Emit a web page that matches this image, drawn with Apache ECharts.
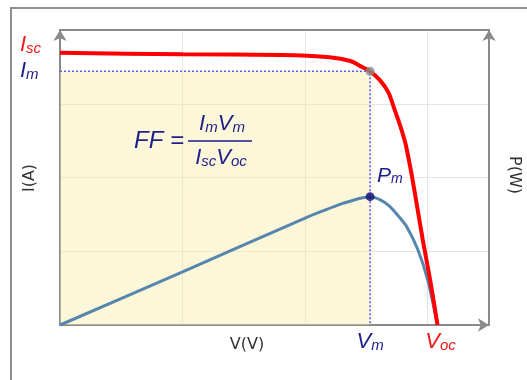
<!DOCTYPE html>
<html>
<head>
<meta charset="utf-8">
<script src="https://cdn.jsdelivr.net/npm/echarts@6/dist/echarts.min.js"></script>
<style>
  html, body { margin: 0; padding: 0; background: #fff; }
  #chart { width: 527px; height: 380px; }
</style>
</head>
<body>
<div id="chart"></div>
<script>
// I-V curve (voltage, current)
const ivVolt = [0, 1.0, 1.8, 2.2, 2.37, 2.45, 2.53, 2.61, 2.68, 2.73, 2.78, 2.82, 2.87, 2.90, 2.96, 3.02, 3.08];
const ivAmp  = [3.69, 3.67, 3.66, 3.63, 3.58, 3.51, 3.44, 3.32, 3.15, 2.92, 2.68, 2.45, 2.03, 1.74, 1.15, 0.61, 0];

// P-V curve (voltage, power)
const pvVolt = [0, 1.0, 2.0, 2.15, 2.30, 2.40, 2.47, 2.53, 2.61, 2.69, 2.77, 2.83, 2.92, 3.00, 3.08];
const pvWatt = [0, 0.72, 1.45, 1.55, 1.645, 1.695, 1.725, 1.74, 1.70, 1.61, 1.46, 1.33, 1.02, 0.61, 0];

// characteristic points
const Vm = 2.53, Im = 3.44, Pm = 1.74, Voc = 3.08, Isc = 3.69;

const RED = '#f01818';
const NAVY = '#1d1d8c';
const AXIS = '#8a8a8a';
const FONT = '"Liberation Sans", Arial, sans-serif';
const LABEL_FONT = '"DejaVu Sans", sans-serif';

const zip = (xs, ys) => xs.map((x, i) => [x, ys[i]]);

// rich text with italic letters and subscripts, e.g. [['I','m'],['V','m']]
function mathText(parts, color, size) {
	let text = parts.map(p => '{a|' + p[0] + '}' + (p[1] ? '{b|' + p[1] + '}' : '')).join('');
	return {
		text: text,
		rich: {
			a: { fontSize: size, fontStyle: 'italic', fontFamily: FONT, fill: color },
			b: { fontSize: Math.round(size * 0.68), fontStyle: 'italic', fontFamily: FONT, fill: color,
				verticalAlign: 'bottom', lineHeight: Math.round(size * 0.3) }
		}
	};
}

function label(x, y, parts, color, size, align) {
	return {
		type: 'text', z: 100,
		style: Object.assign({ x: x, y: y, align: align || 'left', verticalAlign: 'middle' },
			mathText(parts, color, size))
	};
}

const chart = echarts.init(document.getElementById('chart'), null, { renderer: 'canvas' });

const axisLine = (arrow) => ({
	show: true, onZero: false,
	lineStyle: { color: AXIS, width: 2 },
	symbol: arrow ? ['none', 'arrow'] : 'none',
	symbolSize: [10, 11]
});

chart.setOption({
	animation: false,
	grid: { left: 60, top: 30, right: 38, bottom: 55 },
	xAxis: [
		{ type: 'value', min: 0, max: 3.5, interval: 1, position: 'bottom',
			axisLine: axisLine(true), axisTick: { show: false }, axisLabel: { show: false },
			splitLine: { show: true, lineStyle: { color: '#e6e6e6', width: 1 } } },
		{ type: 'value', min: 0, max: 3.5, interval: 1, position: 'top',
			axisLine: axisLine(false), axisTick: { show: false }, axisLabel: { show: false },
			splitLine: { show: false } }
	],
	yAxis: [
		{ type: 'value', min: 0, max: 4, interval: 1, position: 'left',
			axisLine: axisLine(true), axisTick: { show: false }, axisLabel: { show: false },
			splitLine: { show: true, lineStyle: { color: '#e6e6e6', width: 1 } } },
		{ type: 'value', min: 0, max: 4, interval: 1, position: 'right',
			axisLine: axisLine(true), axisTick: { show: false }, axisLabel: { show: false },
			splitLine: { show: false } }
	],
	series: [
		{
			// max power rectangle: dotted edges + yellow fill
			type: 'line', symbol: 'none', z: 2,
			data: [[0, Im], [Vm, Im], [Vm, 0]],
			lineStyle: { color: '#5c5ce6', width: 1.6, type: [2, 2] },
			markArea: {
				silent: true,
				itemStyle: { color: 'rgba(248,236,160,0.4)' },
				data: [[{ coord: [0, 0] }, { coord: [Vm, Im] }]]
			}
		},
		{
			type: 'line', symbol: 'none', smooth: 0.25, z: 4,
			data: zip(pvVolt, pvWatt),
			lineStyle: { color: '#5686ad', width: 3 }
		},
		{
			type: 'line', symbol: 'none', smooth: 0.25, z: 5,
			data: zip(ivVolt, ivAmp),
			lineStyle: { color: '#ff0000', width: 4 }
		},
		{
			type: 'scatter', z: 6, symbolSize: 9,
			data: [
				{ value: [Vm, Im], itemStyle: { color: '#8a8a8a' } },
				{ value: [Vm, Pm], itemStyle: { color: '#101070' } }
			]
		}
	]
});

const px = (v) => chart.convertToPixel({ gridIndex: 0 }, v);
const pIsc = px([0, Isc]), pIm = px([0, Im]), pVm = px([Vm, 0]), pVoc = px([Voc, 0]), pPm = px([Vm, Pm]);

chart.setOption({
	graphic: [
		// outer frame
		{ type: 'rect', z: 0, shape: { x: 11, y: 8, width: 600, height: 500 },
			style: { fill: 'none', stroke: '#8e8e8e', lineWidth: 2 } },
		label(20, pIsc[1] - 8, [['I', 'sc']], RED, 22),
		label(20, pIm[1], [['I', 'm']], NAVY, 22),
		label(pVm[0], 342, [['V', 'm']], NAVY, 22, 'center'),
		label(pVoc[0] + 3, 342, [['V', 'oc']], RED, 22, 'center'),
		label(pPm[0] + 7, pPm[1] - 21, [['P', 'm']], NAVY, 21),
		// fill factor formula
		{ type: 'text', z: 100, style: { x: 134, y: 141, text: 'FF =', align: 'left', verticalAlign: 'middle',
			font: 'italic 24px ' + FONT, fill: NAVY } },
		label(222, 124, [['I', 'm'], ['V', 'm']], NAVY, 22, 'center'),
		label(221, 158, [['I', 'sc'], ['V', 'oc']], NAVY, 22, 'center'),
		{ type: 'line', z: 100, shape: { x1: 188, y1: 141, x2: 252, y2: 141 },
			style: { stroke: NAVY, lineWidth: 1.5 } },
		// axis titles
		{ type: 'text', z: 100, style: { x: 247, y: 345, text: 'V(V)', align: 'center', verticalAlign: 'middle',
			font: '16px ' + LABEL_FONT, fill: '#333' } },
		{ type: 'text', z: 100, x: 30, y: 178, rotation: Math.PI / 2,
			style: { x: 0, y: 0, text: 'I(A)', align: 'center', verticalAlign: 'middle',
				font: '16px ' + LABEL_FONT, fill: '#333' } },
		{ type: 'text', z: 100, x: 514, y: 175, rotation: -Math.PI / 2,
			style: { x: 0, y: 0, text: 'P(W)', align: 'center', verticalAlign: 'middle',
				font: '16px ' + LABEL_FONT, fill: '#333' } }
	]
});
</script>
</body>
</html>
